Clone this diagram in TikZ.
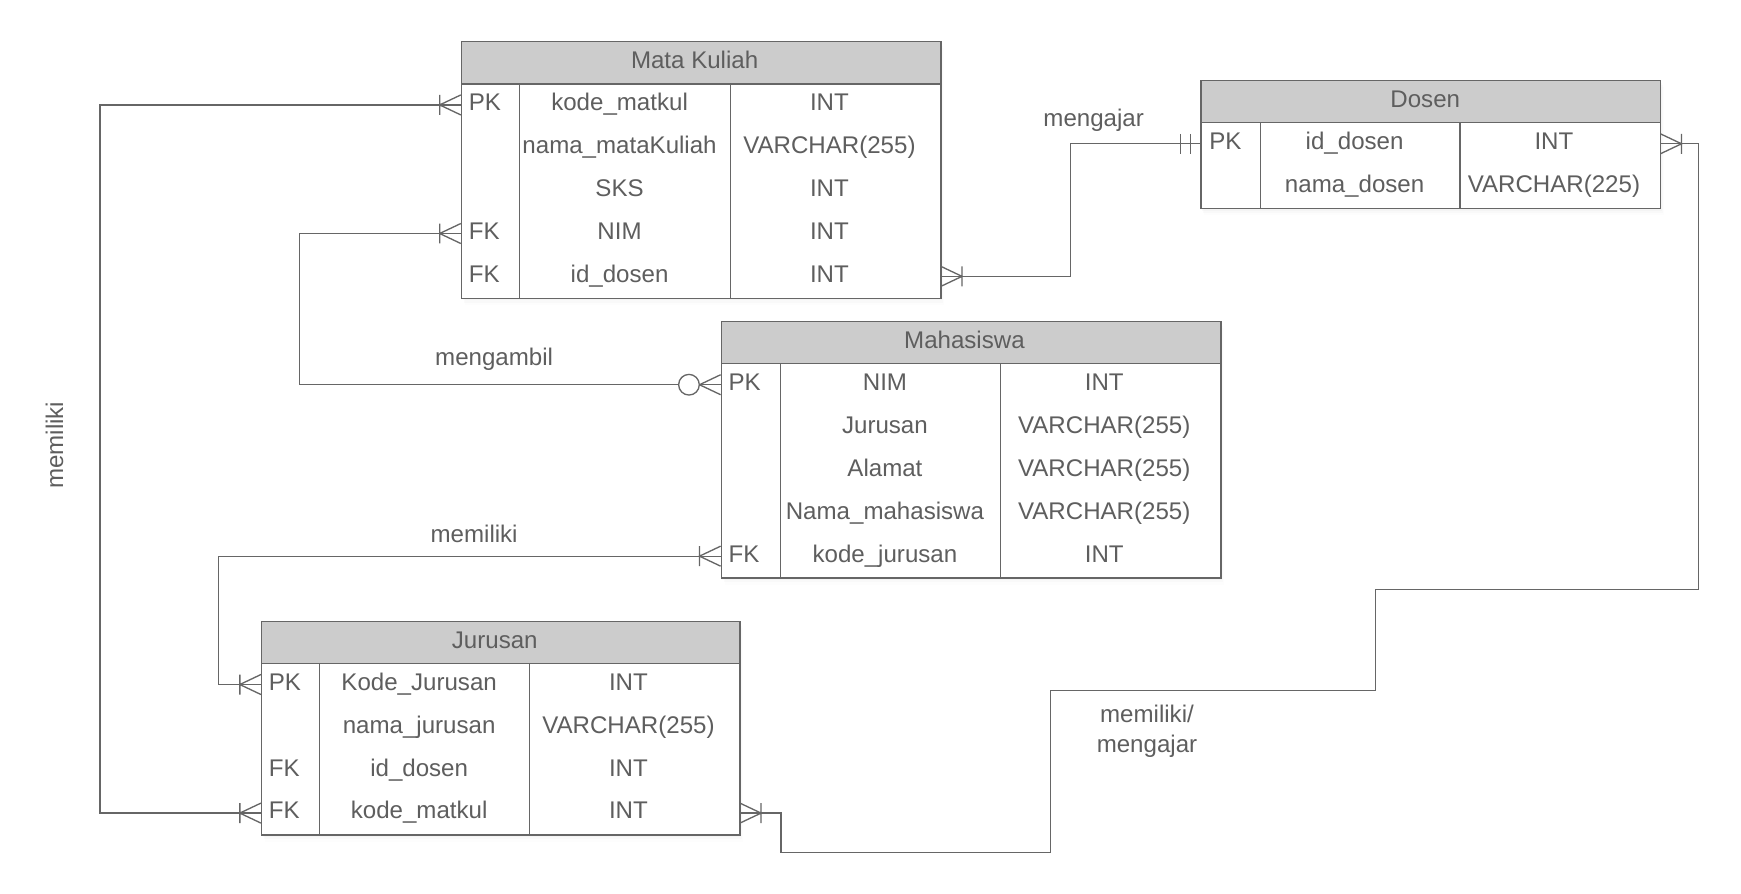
\documentclass[tikz,border=0pt]{standalone}
\usepackage{fontspec}
\setmainfont{Liberation Sans}
\usepackage{tikz}
\usetikzlibrary{shadows}
\definecolor{ink}{HTML}{5E5E5E}
\definecolor{edge}{HTML}{666666}
\definecolor{headgray}{HTML}{CCCCCC}

\begin{document}
\begin{tikzpicture}[x=1pt,y=-1pt,
    txt/.style={text=ink,font=\fontsize{21.7}{27}\selectfont,inner sep=0pt,text height=15.6pt,text depth=5pt},
    lbl/.style={text=ink,font=\fontsize{21.7}{27}\selectfont,inner sep=0pt},
    link/.style={draw=edge,line width=1.2pt},
    frame/.style={link,fill=white,anchor=north west,inner sep=0pt,
        drop shadow={opacity=0.04,shadow xshift=1pt,shadow yshift=-2pt},
        drop shadow={opacity=0.03,shadow xshift=2pt,shadow yshift=-4pt},
        drop shadow={opacity=0.02,shadow xshift=3pt,shadow yshift=-6pt}},
    head/.style={link,fill=headgray,anchor=north west,inner sep=0pt,minimum height=38pt},
    field/.style={anchor=north west,inner sep=0pt,minimum height=38.6pt},
    manyL/.pic={\draw[link] (-19,-9)--(-19,9) (0,-9)--(-19,0)--(0,9);},
    manyR/.pic={\draw[link] (19,-9)--(19,9) (0,-9)--(19,0)--(0,9);},
    oneL/.pic={\draw[link] (-9,-9)--(-9,9) (-18,-9)--(-18,9);},
    zeromanyL/.pic={\draw[link] (0,-9)--(-19,0)--(0,9); \draw[link,fill=white] (-28.5,0) circle (9.3);}]
    \useasboundingbox (0,0) rectangle (1568,805);

    % Mata Kuliah
    \node[frame,minimum width=432pt,minimum height=231pt] (mk) at (415,37) {};
    \node[head,minimum width=432pt] (mkh) at (415,37) {};
    \node[txt] (mkhtxt) at ([xshift=-6pt]mkh.center) {Mata Kuliah};
    \draw[link] ([xshift=53pt]mkh.south west) -- ([xshift=53pt]mk.south west);
    \draw[link] ([xshift=243pt]mkh.south west) -- ([xshift=243pt]mk.south west);
    \foreach \k/\n/\t [count=\i] in {PK/kode\_matkul/INT,/nama\_mataKuliah/VARCHAR(255),/SKS/INT,FK/NIM/INT,FK/id\_dosen/INT}{
        \node[field,minimum width=432pt] (mk\i) at (415,{75+38.6*(\i-1)}) {};
        \node[txt,anchor=west] (mkk\i) at ([xshift=7pt]mk\i.west) {\k};
        \node[txt] (mkn\i) at ([xshift=143pt]mk\i.west) {\n};
        \node[txt] (mkt\i) at ([xshift=332pt]mk\i.west) {\t};
    }

    % Dosen
    \node[frame,minimum width=414pt,minimum height=115.2pt] (do) at (1081,72) {};
    \node[head,minimum width=414pt] (doh) at (1081,72) {};
    \node[txt] (dohtxt) at ([xshift=-5pt]doh.center) {Dosen};
    \draw[link] ([xshift=54pt]doh.south west) -- ([xshift=54pt]do.south west);
    \draw[link] ([xshift=234pt]doh.south west) -- ([xshift=234pt]do.south west);
    \foreach \k/\n/\t [count=\i] in {PK/id\_dosen/INT,/nama\_dosen/VARCHAR(225)}{
        \node[field,minimum width=414pt] (do\i) at (1081,{110+38.6*(\i-1)}) {};
        \node[txt,anchor=west] (dok\i) at ([xshift=8pt]do\i.west) {\k};
        \node[txt] (don\i) at ([xshift=139pt]do\i.west) {\n};
        \node[txt] (dot\i) at ([xshift=318.5pt]do\i.west) {\t};
    }

    % Mahasiswa
    \node[frame,minimum width=450pt,minimum height=231pt] (ma) at (649,289) {};
    \node[head,minimum width=450pt] (mah) at (649,289) {};
    \node[txt] (mahtxt) at ([xshift=-6pt]mah.center) {Mahasiswa};
    \draw[link] ([xshift=54pt]mah.south west) -- ([xshift=54pt]ma.south west);
    \draw[link] ([xshift=252pt]mah.south west) -- ([xshift=252pt]ma.south west);
    \foreach \k/\n/\t [count=\i] in {PK/NIM/INT,/Jurusan/VARCHAR(255),/Alamat/VARCHAR(255),/Nama\_mahasiswa/VARCHAR(255),FK/kode\_jurusan/INT}{
        \node[field,minimum width=450pt] (ma\i) at (649,{327+38.6*(\i-1)}) {};
        \node[txt,anchor=west] (mak\i) at ([xshift=7pt]ma\i.west) {\k};
        \node[txt] (man\i) at ([xshift=148pt]ma\i.west) {\n};
        \node[txt] (mat\i) at ([xshift=345.5pt]ma\i.west) {\t};
    }

    % Jurusan
    \node[frame,minimum width=431pt,minimum height=192.4pt] (ju) at (235,559) {};
    \node[head,minimum width=431pt] (juh) at (235,559) {};
    \node[txt] (juhtxt) at ([xshift=-5.5pt]juh.center) {Jurusan};
    \draw[link] ([xshift=53pt]juh.south west) -- ([xshift=53pt]ju.south west);
    \draw[link] ([xshift=242pt]juh.south west) -- ([xshift=242pt]ju.south west);
    \foreach \k/\n/\t [count=\i] in {PK/Kode\_Jurusan/INT,/nama\_jurusan/VARCHAR(255),FK/id\_dosen/INT,FK/kode\_matkul/INT}{
        \node[field,minimum width=431pt] (ju\i) at (235,{597+38.6*(\i-1)}) {};
        \node[txt,anchor=west] (juk\i) at ([xshift=7pt]ju\i.west) {\k};
        \node[txt] (jun\i) at ([xshift=142.5pt]ju\i.west) {\n};
        \node[txt] (jut\i) at ([xshift=331pt]ju\i.west) {\t};
    }

    % relasi
    \coordinate (bendA) at (946,768);
    \coordinate (bendB) at (1239,622);
    \coordinate (bendC) at (1530,531);
    \draw[link] (mk1.west) -- ++(-325,0) |- (ju4.west);
    \draw[link] (mk4.west) -- ++(-145,0) |- (ma1.west);
    \draw[link] (ma5.west) -- ++(-452,0) |- (ju1.west);
    \draw[link] (mk5.east) -- ++(117,0) |- (do1.west);
    \draw[link] (ju4.east) -- ++(37,0) |- (bendA) |- (bendB) |- (bendC) |- (do1.east);
    \pic at (mk1.west) {manyL};
    \pic at (ju4.west) {manyL};
    \pic at (mk4.west) {manyL};
    \pic at (ma1.west) {zeromanyL};
    \pic at (ma5.west) {manyL};
    \pic at (ju1.west) {manyL};
    \pic at (mk5.east) {manyR};
    \pic at (do1.west) {oneL};
    \pic at (ju4.east) {manyR};
    \pic at (do1.east) {manyR};

    \node[txt,rotate=90] (lblMemiliki) at (51.5,401) {memiliki};
    \node[txt] (lblMengambil) at (445,324) {mengambil};
    \node[txt] (lblMemiliki2) at (427,483) {memiliki};
    \node[txt] (lblMengajar) at (985,108.5) {mengajar};
    \node[lbl,align=center,anchor=north] (lblMemilikiMengajar) at (1033,635) {memiliki/\\mengajar};
\end{tikzpicture}
\end{document}
